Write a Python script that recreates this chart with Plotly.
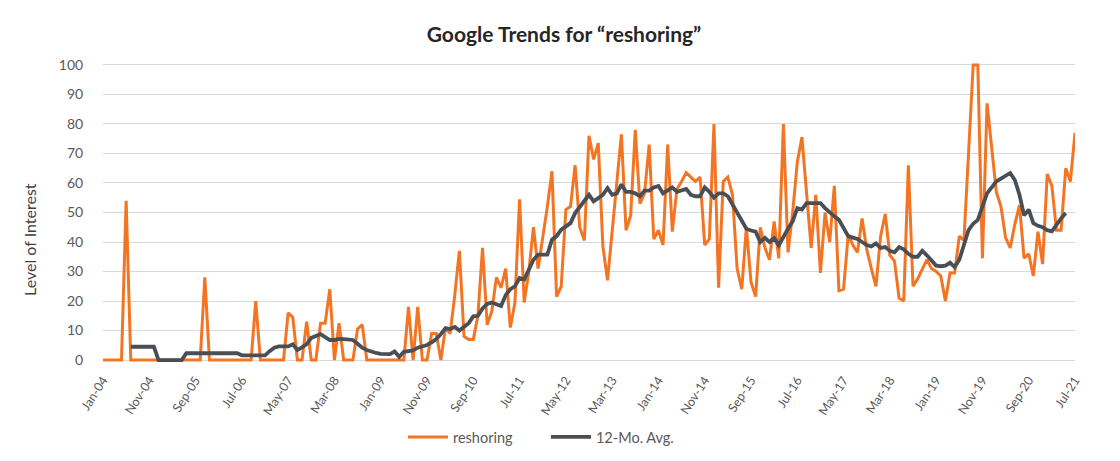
import plotly.graph_objects as go

# Monthly tick labels (every 10 months, Jan-04 .. Jul-21)
tick_labels = ["Jan-04", "Nov-04", "Sep-05", "Jul-06", "May-07", "Mar-08", "Jan-09",
               "Nov-09", "Sep-10", "Jul-11", "May-12", "Mar-13", "Jan-14", "Nov-14",
               "Sep-15", "Jul-16", "May-17", "Mar-18", "Jan-19", "Nov-19", "Sep-20", "Jul-21"]

# Google Trends monthly interest, Jan-04 .. Jul-21
reshoring = [
    0, 0, 0, 0, 0, 54, 0, 0, 0, 0,
    0, 0, 0, 0, 0, 0, 0, 0, 0, 0,
    0, 0, 28, 0, 0, 0, 0, 0, 0, 0,
    0, 0, 0, 20, 0, 0, 0, 0, 0, 0,
    16, 14.5, 0, 0, 13, 0, 0, 12.5, 12.5, 24,
    0, 12.5, 0, 0, 0, 10.5, 12, 0, 0, 0,
    0, 0, 0, 0, 0, 0, 18, 0, 18, 0,
    0, 9, 9, 0, 11, 9, 22, 37, 8, 7,
    7, 15, 38, 12, 16.5, 28, 24.5, 31, 11, 19.5,
    54.5, 19.5, 30, 45, 31, 41, 52, 64, 21.5, 25,
    51, 52, 66, 45, 40.5, 76, 68, 73.5, 38.5, 27,
    43, 60, 76.5, 44, 49, 78, 53, 56.5, 73, 41,
    44, 39, 73, 43.5, 58, 60.5, 63.5, 62, 60.5, 62,
    39, 41, 80, 24.5, 60.5, 62, 56, 31, 24, 45,
    26.5, 21.5, 45, 38, 34, 47, 34.5, 80, 36.5, 50,
    67, 75.5, 56, 38, 56, 29.5, 50, 40, 59, 23.5,
    24, 42.5, 39, 36.5, 48, 37.5, 31, 25, 42, 49.5,
    35.5, 33.5, 21, 20, 66, 25, 27.5, 30.5, 34, 31,
    30, 28.5, 20, 29.5, 29.5, 42, 40.5, 70, 100, 100,
    34.5, 87, 71, 57, 52, 41.5, 38, 46, 52.5, 34.5,
    36, 28.5, 43.5, 32.5, 63, 59, 44, 44, 65, 60.5,
    77,
]

# 12-month average
avg12 = [
    None, None, None, None, None, None, 4.5, 4.5, 4.5, 4.5,
    4.5, 4.5, 0, 0, 0, 0, 0, 0, 2.3, 2.3,
    2.3, 2.3, 2.3, 2.3, 2.3, 2.3, 2.3, 2.3, 2.3, 2.3,
    1.6, 1.6, 1.6, 1.6, 1.6, 1.6, 3, 4.2, 4.6, 4.6,
    4.6, 5.3, 3.4, 4.3, 5.4, 7.5, 8, 8.8, 7.8, 6.8,
    6.8, 7.2, 7.1, 6.9, 6.8, 5.5, 4.2, 3.4, 2.8, 2.4,
    2.1, 2.0, 2.0, 2.9, 1.1, 2.8, 2.9, 3.3, 4.2, 4.7,
    5.1, 6, 7.1, 8.8, 10.8, 10.5, 11.2, 10, 11.3, 12.5,
    14.8, 15, 17.5, 19, 19.5, 18.8, 18.3, 22, 24, 25,
    27.8, 27.3, 31, 34, 35.7, 35.7, 35.7, 40.8, 42, 44.2,
    45.3, 46.4, 49.8, 52, 54.3, 56, 53.8, 55, 56, 58.3,
    56, 56.5, 59.5, 57, 57, 56.5, 55.5, 57.4, 57.4, 58.5,
    59, 56.5, 57.5, 58.5, 57, 57.5, 58, 56, 55.5, 55.5,
    58.5, 57, 55, 56.5, 56.5, 55.5, 52.6, 49.8, 47, 44.5,
    43.9, 43.5, 40, 41.4, 40, 41.3, 38.9, 42, 44.5, 47,
    51.5, 51, 53.2, 53.2, 53.2, 53.2, 51.5, 50, 48.7, 47.5,
    44.5, 42, 41.5, 41, 40, 39, 38.5, 39.5, 38, 38.3,
    37, 36.5, 38.3, 37.5, 36, 35, 35, 37, 35.5, 33.5,
    32, 31.8, 32, 33, 31.5, 34, 39, 44, 46.2, 47.5,
    52, 56.5, 58.5, 60.5, 61.5, 62.5, 63.4, 61, 56, 49,
    51, 46.4, 45.5, 45, 44, 43.6, 46, 48, 49.8, None,
    None,
]

x_idx = list(range(len(reshoring)))
tick_pos = [i * 10 for i in range(len(tick_labels))]

ORANGE = "#F37524"
GRAY = "#4A4F56"
FONT = "Lato, 'Open Sans', sans-serif"

fig = go.Figure()
fig.add_trace(go.Scatter(x=x_idx, y=reshoring, mode="lines", name="reshoring",
                         line=dict(color=ORANGE, width=3)))
fig.add_trace(go.Scatter(x=x_idx, y=avg12, mode="lines", name="12-Mo. Avg.",
                         line=dict(color=GRAY, width=3.8)))

# page body has an 8px default margin, so the figure is sized 1112x453
fig.update_layout(
    width=1112, height=453,
    paper_bgcolor="white", plot_bgcolor="white",
    margin=dict(l=95, r=45, t=54, b=98, autoexpand=False),
    font=dict(family=FONT, color="#595959", size=13),
    title=dict(text="<b>Google Trends for “reshoring”</b>", x=0.5, xanchor="center",
               y=1 - 27 / 453, yanchor="middle",
               font=dict(family=FONT, size=21, color="#262626")),
    showlegend=True,
    legend=dict(orientation="h", x=0.3086, xanchor="left", y=-0.246, yanchor="middle",
                font=dict(family=FONT, size=14.5, color="#595959"),
                itemwidth=40, traceorder="normal",
                entrywidth=88, entrywidthmode="pixels"),
    xaxis=dict(range=[0, len(reshoring) - 1], tickmode="array", tickvals=tick_pos,
               ticktext=tick_labels, tickangle=-57, showgrid=False, zeroline=False,
               showline=False, ticks="outside", ticklen=4, tickcolor="rgba(0,0,0,0)",
               automargin=False,
               tickfont=dict(family=FONT, size=12.5, color="#595959")),
    yaxis=dict(range=[-1, 101], tickmode="array", tickvals=list(range(0, 101, 10)),
               showgrid=True, gridcolor="#D9D9D9", gridwidth=1.2, zeroline=False,
               showline=False, ticks="outside", ticklen=16, tickcolor="rgba(0,0,0,0)",
               automargin=False,
               tickfont=dict(family=FONT, size=14, color="#595959")),
    annotations=[dict(text="Level of Interest", xref="paper", yref="paper",
                      x=-0.0751, y=0.409, xanchor="center", yanchor="middle",
                      textangle=-90, showarrow=False,
                      font=dict(family=FONT, size=16, color="#404040"))],
)

fig.write_html("out.html")
